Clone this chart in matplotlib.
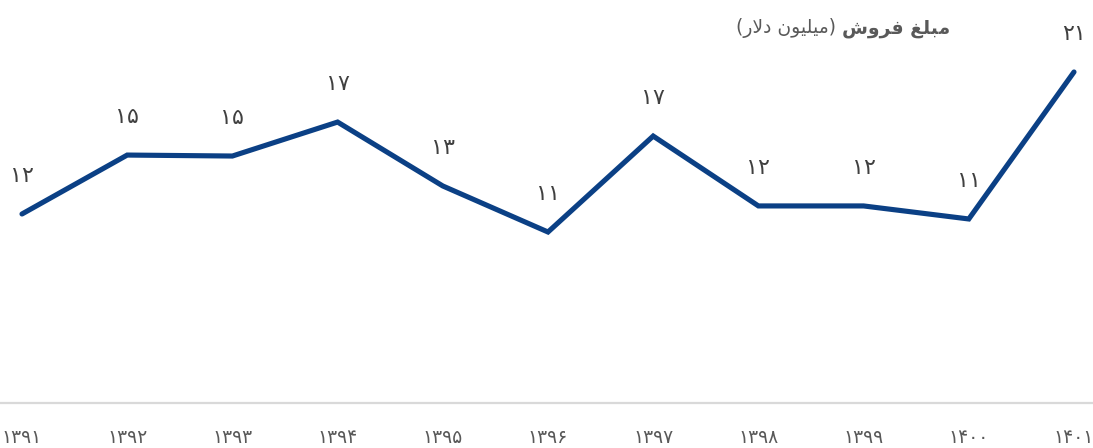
import numpy as np
import matplotlib
matplotlib.use("Agg")
import matplotlib.pyplot as plt

plt.rcParams['font.family'] = ['DejaVu Sans']

# sales per year (million dollars)
years = ['1391', '1392', '1393', '1394', '1395', '1396', '1397', '1398', '1399', '1400', '1401']
sales = [11.74, 15.40, 15.34, 17.45, 13.48, 10.62, 16.58, 12.24, 12.24, 11.43, 20.56]

FA_DIGITS = str.maketrans('0123456789', '۰۱۲۳۴۵۶۷۸۹')


def fa(s):
    return str(s).translate(FA_DIGITS)


# title pieces, already shaped and in visual (left-to-right) order
title_bold = '\uFEB5\uFEED\uFEAE\uFED3 \uFECE\uFEE0\uFE92\uFEE3'          # مبلغ فروش
title_unit = '(\uFEAD\uFEFB\uFEA9 \uFEE5\uFEEE\uFEF4\uFEE0\uFEF4\uFEE3)'   # (میلیون دلار)

W, H = 1093, 448
fig = plt.figure(figsize=(W / 100, H / 100), dpi=100)
ax = fig.add_axes([0, 45 / H, 1, 403 / H])

x = np.arange(len(years))
ax.plot(x, sales, color='#0b4085', lw=3.7, solid_capstyle='round', solid_joinstyle='miter')

for xi, v in zip(x, sales):
    ax.annotate(fa(int(round(v))), (xi, v), xytext=(0, 27.5), textcoords='offset points',
                ha='center', va='center', fontsize=16, color='#404040')

step = 1052 / 10
ax.set_xlim(-22 / step, 10 + 19 / step)
ax.set_ylim(0, 403 / 16.1)

ax.set_xticks(x)
ax.set_xticklabels([fa(y) for y in years], fontsize=13.5, color='#595959')
ax.tick_params(axis='x', length=0, pad=18)
ax.set_yticks([])

for side in ['top', 'right', 'left']:
    ax.spines[side].set_visible(False)
ax.spines['bottom'].set_color('#d9d9d9')
ax.spines['bottom'].set_linewidth(1.6)

# title: bold part on the right, unit in parentheses to its left
tb = fig.text(950 / W, 1 - 28 / H, title_bold, ha='right', va='center',
              fontsize=13.5, fontweight='bold', color='#595959')
renderer = fig.canvas.get_renderer()
bb = tb.get_window_extent(renderer)
fig.text((bb.x0 - 6) / W, 1 - 28 / H, title_unit, ha='right', va='center',
         fontsize=13.5, color='#595959')

fig.savefig('out.png', dpi=100)
